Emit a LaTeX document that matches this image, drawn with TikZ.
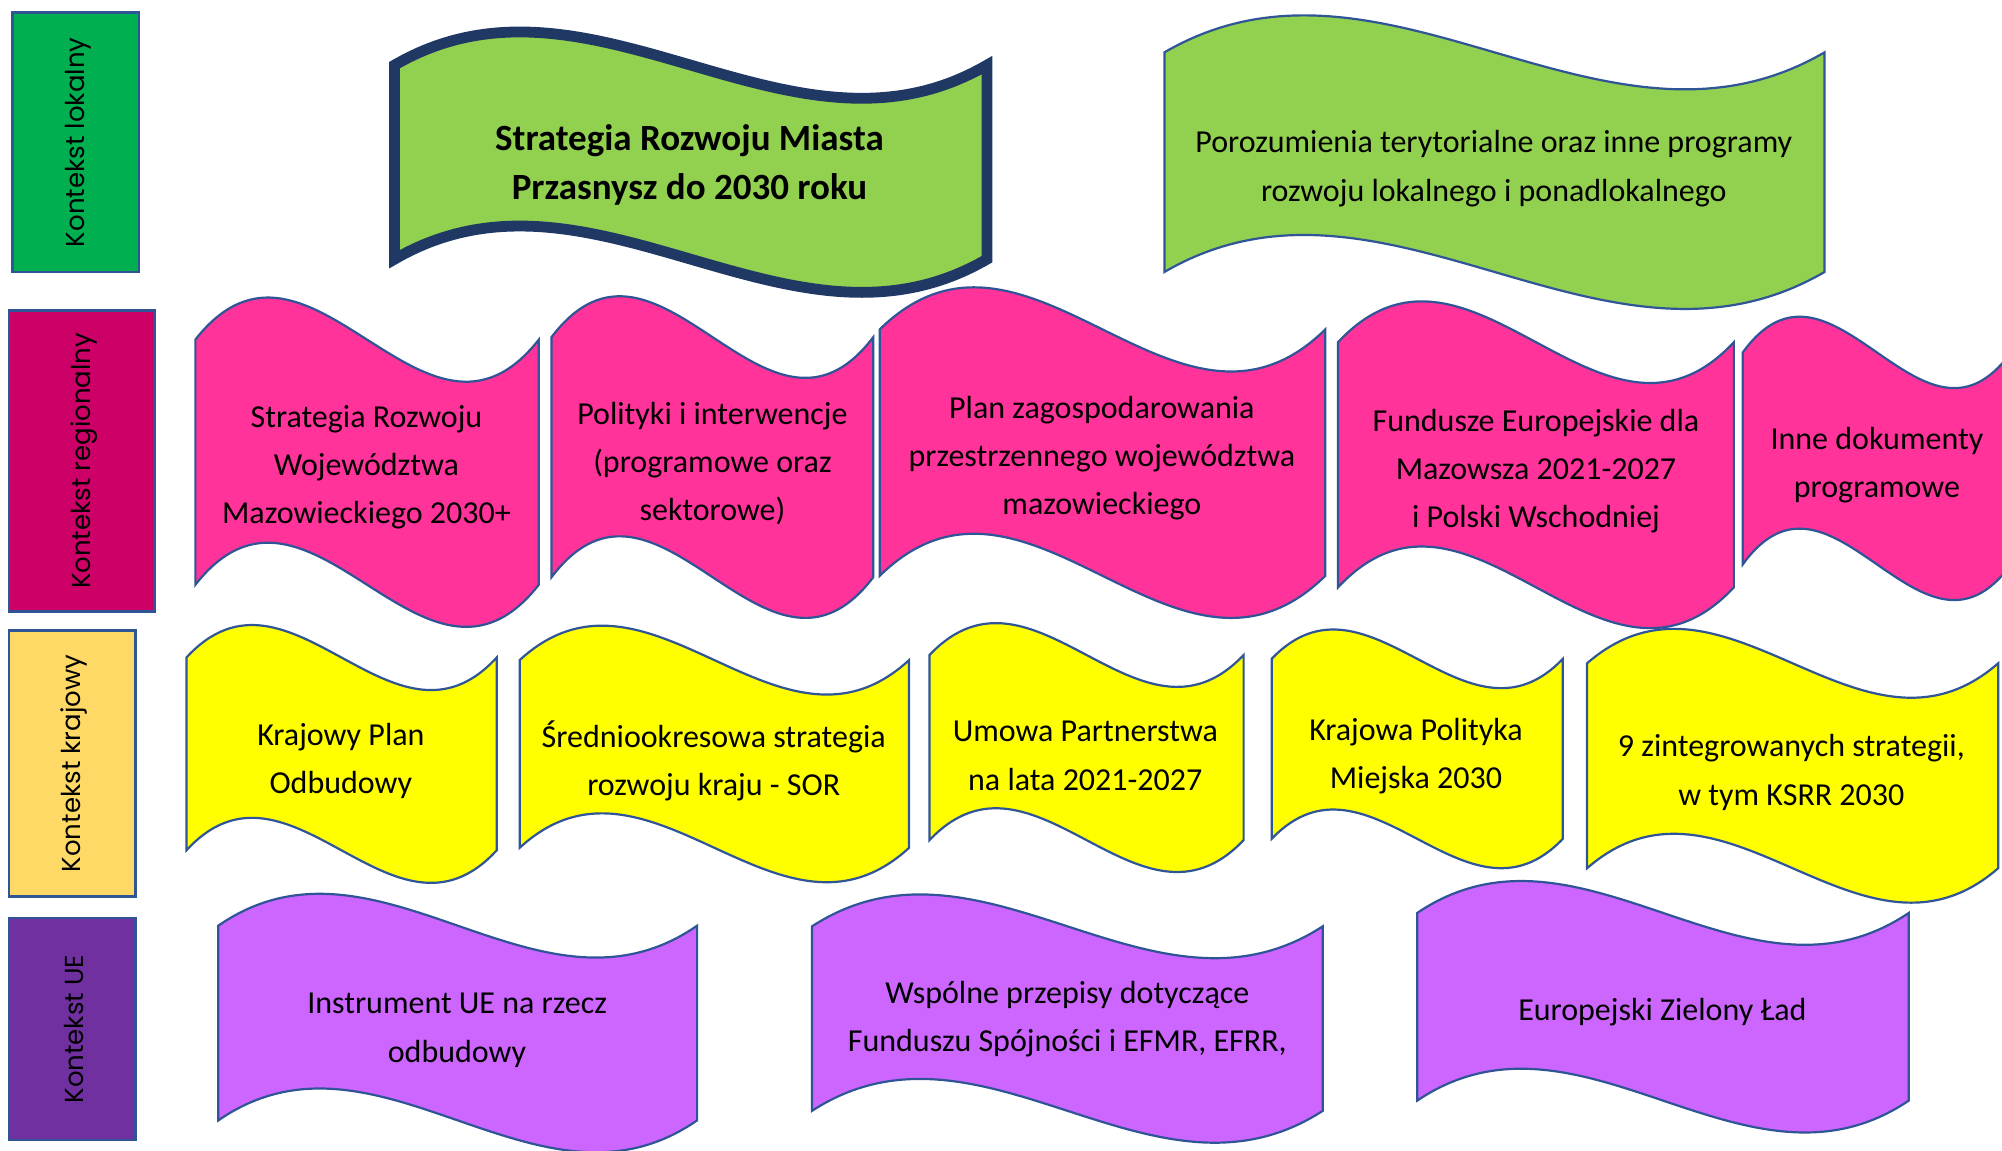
\documentclass[tikz,border=0pt]{standalone}
\usepackage{fontspec}
\setmainfont{Carlito}
\newfontfamily\gothic{Poppins}
\usepackage{tikz}
\usetikzlibrary{positioning}
\definecolor{outline}{HTML}{2F5597}
\definecolor{navy}{HTML}{203864}
\definecolor{lokal}{HTML}{00B050}
\definecolor{region}{HTML}{CC0066}
\definecolor{kraj}{HTML}{FFD966}
\definecolor{unia}{HTML}{7030A0}
\definecolor{lime}{HTML}{92D050}
\definecolor{rose}{HTML}{FF3399}
\definecolor{lemon}{HTML}{FFFF00}
\definecolor{lilac}{HTML}{CC66FF}

% #1 style, #2 left, #3 right, #4 top, #5 bottom, #6 wave height
\newcommand{\wave}[6]{%
	\filldraw[#1] (#2,#4) .. controls ({(2*#2+#3)/3},{#4-3.46*#6}) and ({(#2+2*#3)/3},{#4+3.46*#6}) .. (#3,#4)
		-- (#3,#5) .. controls ({(#2+2*#3)/3},{#5+3.46*#6}) and ({(2*#2+#3)/3},{#5-3.46*#6}) .. (#2,#5) -- cycle;}

\begin{document}
\begin{tikzpicture}[x=0.6384pt,y=-0.6384pt]
		\tikzstyle{ctx}=[draw=outline, line width=1.3pt]
		\tikzset{ctxtext/.style={rotate=90, font=\gothic\fontsize{13}{15}\selectfont}}
		\tikzset{banner/.style={draw=outline, line width=1.1pt}}
		\tikzset{bannertext/.style={align=center, font=\fontsize{16}{24.1}\selectfont}}
		\clip (0,0) rectangle (1568,901);

		\draw[ctx, fill=lokal] (10,10) rectangle (109,213);
		\draw[ctx, fill=region] (7,243) rectangle (121,479);
		\draw[ctx, fill=kraj] (7,494) rectangle (106,702);
		\draw[ctx, fill=unia] (7,719) rectangle (106,893);
		\node[ctxtext] (klokalny) at (61,111.5) {Kontekst lokalny};
		\node[ctxtext] (kregion) at (66,361) {Kontekst regionalny};
		\node[ctxtext] (kkraj) at (58,598) {Kontekst krajowy};
		\node[ctxtext] (kue) at (58,806) {Kontekst UE};

		\wave{draw=navy, line width=5.4pt, fill=lime}{309}{773}{51}{203}{26}
		\wave{banner, fill=lime}{912}{1429}{41}{213}{29}
		\node[bannertext, font=\bfseries\fontsize{18.5}{24.3}\selectfont] (miasto) at (540,129) {Strategia Rozwoju Miasta\\Przasnysz do 2030 roku};
		\node[bannertext] (porozum) at (1170,132) {Porozumienia terytorialne oraz inne programy\\rozwoju lokalnego i ponadlokalnego};

		\wave{banner, fill=rose}{153}{422}{266}{458}{33}
		\wave{banner, fill=rose}{432}{684}{264}{452}{32}
		\wave{banner, fill=rose}{689}{1038}{258}{451}{33}
		\wave{banner, fill=rose}{1048}{1358}{268}{460}{32}
		\wave{banner, fill=rose}{1365}{1575}{276}{442}{28}
		\node[bannertext] (srwm) at (287,366) {Strategia Rozwoju\\Województwa\\Mazowieckiego 2030+};
		\node[bannertext] (polityki) at (558,363) {Polityki i interwencje\\(programowe oraz\\sektorowe)};
		\node[bannertext] (plan) at (863,359) {Plan zagospodarowania\\przestrzennego województwa\\mazowieckiego};
		\node[bannertext] (fundusze) at (1203,369) {Fundusze Europejskie dla\\Mazowsza 2021-2027\\i Polski Wschodniej};
		\node[bannertext] (inne) at (1470,364) {Inne dokumenty\\programowe};

		\wave{banner, fill=lemon}{146}{389}{515}{666}{25.5}
		\wave{banner, fill=lemon}{407}{712}{517}{664}{27}
		\wave{banner, fill=lemon}{728}{974}{513}{658}{25}
		\wave{banner, fill=lemon}{996}{1224}{516}{657}{23}
		\wave{banner, fill=lemon}{1243}{1565}{519.5}{680}{27}
		\node[bannertext] (kpo) at (267,596) {Krajowy Plan\\Odbudowy};
		\node[bannertext] (sor) at (559,596) {Średniookresowa strategia\\rozwoju kraju - SOR};
		\node[bannertext] (umowa) at (850,592) {Umowa Partnerstwa\\na lata 2021-2027};
		\node[bannertext] (kpm) at (1109,592) {Krajowa Polityka\\Miejska 2030};
		\node[bannertext] (ksrr) at (1403,605) {9 zintegrowanych strategii,\\w tym KSRR 2030};

		\wave{banner, fill=lilac}{171}{546}{725}{877.5}{25}
		\wave{banner, fill=lilac}{636}{1036}{725.5}{870}{25}
		\wave{banner, fill=lilac}{1110}{1495}{715}{862}{25}
		\node[bannertext] (odbudowa) at (358,807) {Instrument UE na rzecz\\odbudowy};
		\node[bannertext] (przepisy) at (836,798) {Wspólne przepisy dotyczące\\Funduszu Spójności i EFMR, EFRR,};
		\node[bannertext] (lad) at (1302,792.5) {Europejski Zielony Ład};
	\end{tikzpicture}
\end{document}
